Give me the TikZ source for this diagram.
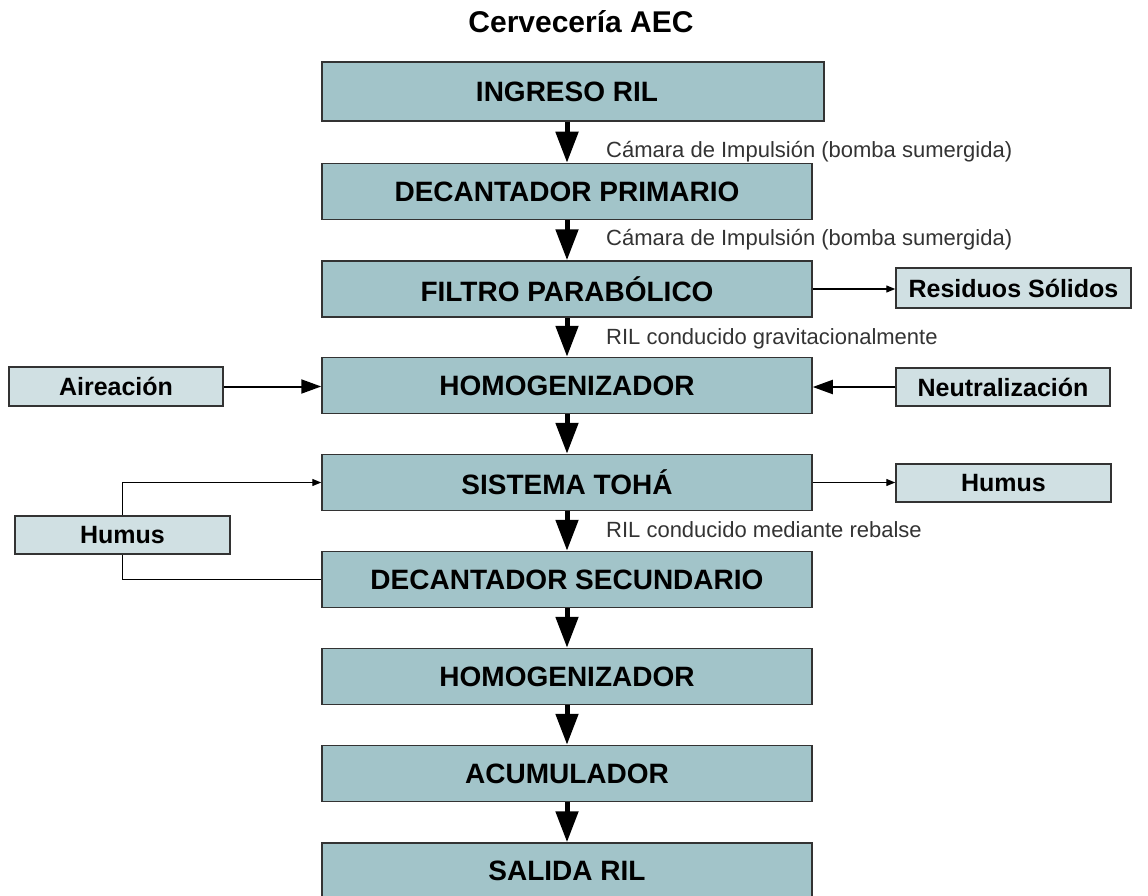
\documentclass[tikz,border=0pt]{standalone}
\usepackage{fontspec}
\setmainfont{Liberation Sans}
\usetikzlibrary{arrows.meta}
\definecolor{mainfill}{HTML}{A2C4C9}
\definecolor{sidefill}{HTML}{D0E0E3}
\definecolor{edge}{HTML}{333333}
\begin{document}
\begin{tikzpicture}[x=1pt,y=-1pt,
  mainbox/.style={draw=edge, line width=1.5pt, fill=mainfill, minimum width=490pt, minimum height=56pt, inner sep=0pt, font=\bfseries\fontsize{28}{32}\selectfont},
  sidebox/.style={draw=edge, line width=1.5pt, fill=sidefill, minimum height=39pt, inner sep=0pt, font=\bfseries\fontsize{25}{30}\selectfont},
  flow/.style={line width=5pt, -{Triangle[length=31pt,width=22pt]}},
  feed/.style={line width=2pt, -{Triangle[length=20pt,width=14pt]}},
  sideflow/.style={line width=1.3pt, -{Triangle[length=9pt,width=7pt]}},
  link/.style={line width=1.3pt},
  lbl/.style={anchor=base west, inner sep=0pt, text=edge, font=\fontsize{22}{26}\selectfont}]
\useasboundingbox (0,0) rectangle (1148,896);

\node[anchor=base, inner sep=0pt, font=\bfseries\fontsize{30}{34}\selectfont] (title) at (581,33) {Cervecería AEC};

\node[mainbox, minimum width=502pt, minimum height=59pt] (ingreso) at (573,91.5) {\hspace*{-12pt}INGRESO RIL};
\node[mainbox] (decp) at (567,191.5) {DECANTADOR PRIMARIO};
\node[mainbox] (filtro) at (567,289) {FILTRO PARABÓLICO};
\node[mainbox] (homog1) at (567,385.5) {HOMOGENIZADOR};
\node[mainbox] (toha) at (567,482.5) {SISTEMA TOHÁ};
\node[mainbox] (decs) at (567,579.5) {DECANTADOR SECUNDARIO};
\node[mainbox] (homog2) at (567,676.5) {HOMOGENIZADOR};
\node[mainbox] (acum) at (567,773.5) {ACUMULADOR};
\node[mainbox] (salida) at (567,871) {SALIDA RIL};

\node[sidebox, minimum width=235pt, minimum height=40pt] (res) at (1013.5,288) {Residuos Sólidos};
\node[sidebox, minimum width=214pt] (air) at (116,386.5) {Aireación};
\node[sidebox, minimum width=214pt, minimum height=38pt] (neu) at (1003,387) {Neutralización};
\node[sidebox, minimum width=215pt, minimum height=38pt] (humr) at (1003.5,483) {Humus};
\node[sidebox, minimum width=215pt, minimum height=38pt] (huml) at (122.5,535) {Humus};

\draw[flow] (decp.north |- ingreso.south) -- (decp.north);
\draw[flow] (decp) -- (filtro);
\draw[flow] (filtro) -- (homog1);
\draw[flow] (homog1) -- (toha);
\draw[flow] (toha) -- (decs);
\draw[flow] (decs) -- (homog2);
\draw[flow] (homog2) -- (acum);
\draw[flow] (acum) -- (salida);

\draw[sideflow] (filtro.east) -- (filtro.east -| res.west);
\draw[feed] (air.east) -- (air.east -| homog1.west);
\draw[feed] (neu.west) -- (neu.west -| homog1.east);
\draw[sideflow] (toha.east) -- (toha.east -| humr.west);
\draw[sideflow] (huml.north) |- (toha.west);
\draw[link] (huml.south) |- (decs.west);

\node[lbl] (l1) at (606,158) {Cámara de Impulsión (bomba sumergida)};
\node[lbl] (l2) at (606,245) {Cámara de Impulsión (bomba sumergida)};
\node[lbl] (l3) at (606,344) {RIL conducido gravitacionalmente};
\node[lbl] (l4) at (606,537) {RIL conducido mediante rebalse};
\end{tikzpicture}
\end{document}
